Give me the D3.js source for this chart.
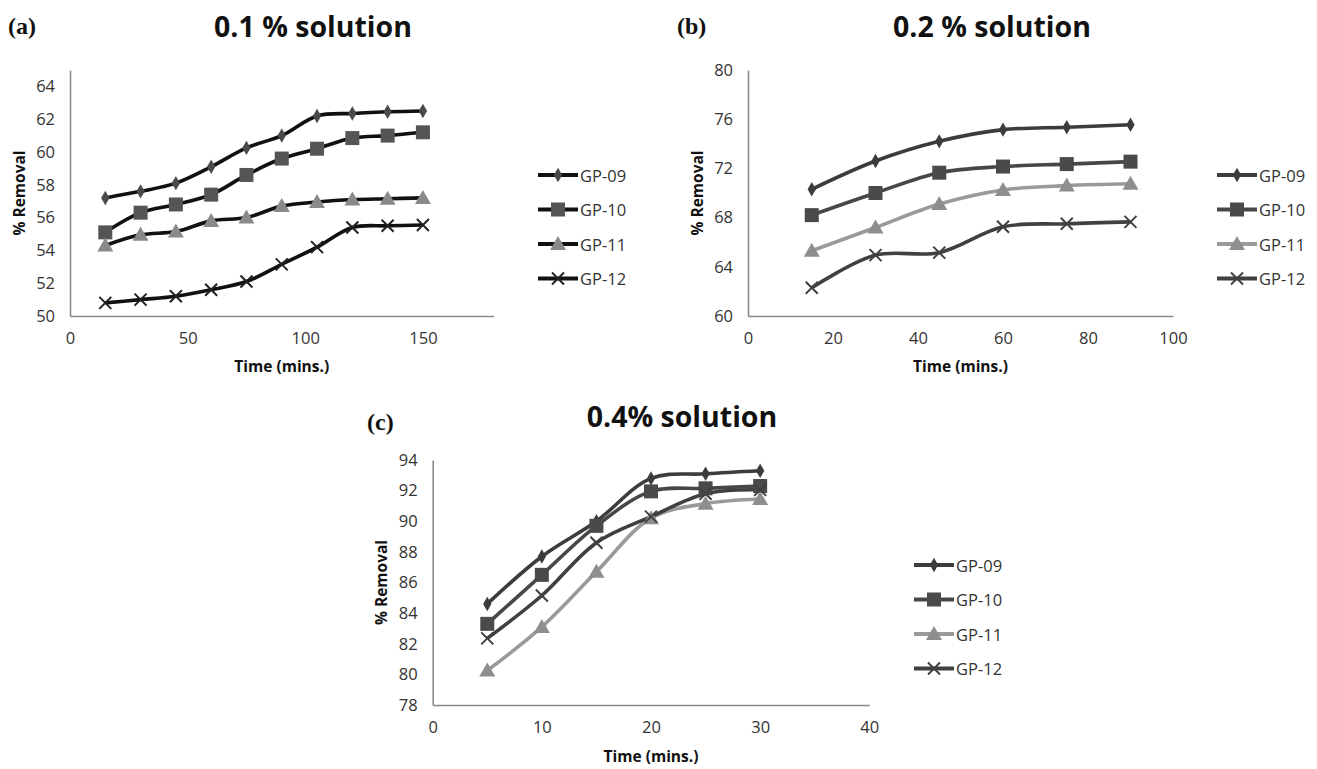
<!DOCTYPE html>
<html>
<head>
<meta charset="utf-8">
<script src="https://cdn.jsdelivr.net/npm/d3@7"></script>
<style>
  html, body { margin: 0; padding: 0; background: #fff; }
  svg { display: block; }
  text { font-family: "Open Sans", "Liberation Sans", sans-serif; }
</style>
</head>
<body>
<svg id="chart" width="1317" height="769"></svg>
<script>
// ---- Data ----
const seriesNames = ["GP-09", "GP-10", "GP-11", "GP-12"];

// (a) 0.1 % solution
const timeA = [15, 30, 45, 60, 75, 90, 105, 120, 135, 150];
const a_GP09 = [57.2, 57.6, 58.1, 59.1, 60.25, 61.0, 62.2, 62.35, 62.45, 62.5];
const a_GP10 = [55.1, 56.3, 56.8, 57.4, 58.6, 59.6, 60.2, 60.85, 61.0, 61.2];
const a_GP11 = [54.3, 54.95, 55.15, 55.8, 56.0, 56.7, 56.95, 57.1, 57.15, 57.2];
const a_GP12 = [50.8, 51.0, 51.2, 51.6, 52.1, 53.15, 54.2, 55.4, 55.5, 55.55];

// (b) 0.2 % solution
const timeB = [15, 30, 45, 60, 75, 90];
const b_GP09 = [70.3, 72.6, 74.2, 75.15, 75.35, 75.55];
const b_GP10 = [68.2, 70.0, 71.65, 72.15, 72.35, 72.55];
const b_GP11 = [65.3, 67.2, 69.1, 70.25, 70.6, 70.75];
const b_GP12 = [62.3, 64.95, 65.15, 67.25, 67.5, 67.65];

// (c) 0.4% solution
const timeC = [5, 10, 15, 20, 25, 30];
const c_GP09 = [84.6, 87.7, 90.0, 92.8, 93.1, 93.3];
const c_GP10 = [83.3, 86.5, 89.7, 91.95, 92.15, 92.3];
const c_GP11 = [80.25, 83.1, 86.7, 90.2, 91.15, 91.45];
const c_GP12 = [82.35, 85.15, 88.6, 90.3, 91.8, 92.05];

// Tick labels
const xTicksA = [0, 50, 100, 150];
const yTicksA = [50, 52, 54, 56, 58, 60, 62, 64];
const xTicksB = [0, 20, 40, 60, 80, 100];
const yTicksB = [60, 64, 68, 72, 76, 80];
const xTicksC = [0, 10, 20, 30, 40];
const yTicksC = [78, 80, 82, 84, 86, 88, 90, 92, 94];

const svg = d3.select("#chart");

const markerTypes = ["diamond", "square", "triangle", "x"];

function drawMarker(g, type, x, y, color) {
  if (type === "diamond") {
    g.append("path").attr("d", d3.symbol().type(d3.symbolDiamond).size(60)())
      .attr("transform", `translate(${x},${y})`).attr("fill", color);
  } else if (type === "square") {
    g.append("rect").attr("x", x - 7).attr("y", y - 7).attr("width", 14).attr("height", 14)
      .attr("fill", color);
  } else if (type === "triangle") {
    g.append("path").attr("d", `M${x},${y - 8}L${x + 8},${y + 6}L${x - 8},${y + 6}Z`)
      .attr("fill", color);
  } else {
    g.append("path").attr("d", `M${x - 6},${y - 6}L${x + 6},${y + 6}M${x - 6},${y + 6}L${x + 6},${y - 6}`)
      .attr("stroke", color).attr("stroke-width", 2).attr("fill", "none");
  }
}

function panel(cfg) {
  const x = d3.scaleLinear().domain(cfg.xDomain).range(cfg.xRange);
  const y = d3.scaleLinear().domain(cfg.yDomain).range(cfg.yRange);
  const g = svg.append("g");

  // Axes
  const xAxis = g.append("g").attr("transform", `translate(0,${cfg.yRange[0]})`)
    .call(d3.axisBottom(x).tickValues(cfg.xTicks).tickSize(0).tickPadding(16).tickFormat(d3.format("d")));
  const yAxis = g.append("g").attr("transform", `translate(${cfg.xRange[0]},0)`)
    .call(d3.axisLeft(y).tickValues(cfg.yTicks).tickSize(0).tickPadding(15).tickFormat(d3.format("d")));
  [xAxis, yAxis].forEach(ax => {
    ax.select(".domain").attr("stroke", "#8a8a8a").attr("stroke-width", 1.6);
    ax.selectAll("text").attr("fill", "#333").style("font-size", "16.5px")
      .style("font-family", "'Open Sans', sans-serif");
  });

  // Lines
  const line = d3.line().curve(d3.curveCatmullRom.alpha(0.5))
    .x((d, i) => x(cfg.time[i])).y(d => y(d));
  cfg.series.forEach((vals, si) => {
    g.append("path").datum(vals).attr("d", line).attr("fill", "none")
      .attr("stroke", cfg.lineColors[si]).attr("stroke-width", 3.6);
  });
  cfg.series.forEach((vals, si) => {
    vals.forEach((v, i) => drawMarker(g, markerTypes[si], x(cfg.time[i]), y(v), cfg.markerColors[si]));
  });

  // Axis titles
  g.append("text").attr("x", (cfg.xRange[0] + cfg.xRange[1]) / 2).attr("y", cfg.xTitleY)
    .attr("text-anchor", "middle").style("font-size", "15.5px").style("font-weight", "bold")
    .attr("fill", "#111").text("Time (mins.)");
  g.append("text")
    .attr("transform", `translate(${cfg.yTitleX},${(cfg.yRange[0] + cfg.yRange[1]) / 2}) rotate(-90)`)
    .attr("text-anchor", "middle").attr("dominant-baseline", "central")
    .style("font-size", "15.5px").style("font-weight", "bold").attr("fill", "#111").text("% Removal");

  // Title & panel letter
  g.append("text").attr("x", cfg.titleX).attr("y", cfg.titleY).attr("text-anchor", "middle")
    .style("font-size", "28.5px").style("font-weight", "bold").attr("fill", "#111").text(cfg.title);
  g.append("text").attr("x", cfg.letterX).attr("y", cfg.letterY)
    .style("font-family", "'Liberation Serif', serif").style("font-size", "24px")
    .style("font-weight", "bold").attr("fill", "#111").text(cfg.letter);

  // Legend
  seriesNames.forEach((name, si) => {
    const ly = cfg.legendY + si * 34.5;
    const lx = cfg.legendX;
    g.append("line").attr("x1", lx).attr("x2", lx + 40).attr("y1", ly).attr("y2", ly)
      .attr("stroke", cfg.lineColors[si]).attr("stroke-width", 4);
    drawMarker(g, markerTypes[si], lx + 20, ly, cfg.markerColors[si]);
    g.append("text").attr("x", lx + 42).attr("y", ly).attr("dominant-baseline", "central")
      .style("font-size", "16.5px").attr("fill", "#333").text(name);
  });
}

panel({
  time: timeA, series: [a_GP09, a_GP10, a_GP11, a_GP12],
  xDomain: [0, 180], xRange: [70, 493.5], yDomain: [50, 65], yRange: [316, 70],
  xTicks: xTicksA, yTicks: yTicksA,
  lineColors: ["#111", "#111", "#111", "#111"],
  markerColors: ["#4a4a4a", "#555", "#8a8a8a", "#222"],
  xTitleY: 372, yTitleX: 19,
  title: "0.1 % solution", titleX: 313, titleY: 37, letter: "(a)", letterX: 8, letterY: 34,
  legendX: 538, legendY: 175
});

panel({
  time: timeB, series: [b_GP09, b_GP10, b_GP11, b_GP12],
  xDomain: [0, 100], xRange: [748, 1173], yDomain: [60, 80], yRange: [316, 70],
  xTicks: xTicksB, yTicks: yTicksB,
  lineColors: ["#3c3c3c", "#474747", "#9a9a9a", "#404040"],
  markerColors: ["#3c3c3c", "#4a4a4a", "#8e8e8e", "#404040"],
  xTitleY: 372, yTitleX: 697,
  title: "0.2 % solution", titleX: 992, titleY: 37, letter: "(b)", letterX: 677, letterY: 34,
  legendX: 1217, legendY: 175
});

panel({
  time: timeC, series: [c_GP09, c_GP10, c_GP11, c_GP12],
  xDomain: [0, 40], xRange: [432.7, 869.3], yDomain: [78, 94], yRange: [705, 460],
  xTicks: xTicksC, yTicks: yTicksC,
  lineColors: ["#3c3c3c", "#474747", "#9a9a9a", "#404040"],
  markerColors: ["#3c3c3c", "#4a4a4a", "#8e8e8e", "#404040"],
  xTitleY: 762, yTitleX: 381,
  title: "0.4% solution", titleX: 682, titleY: 427, letter: "(c)", letterX: 367, letterY: 430,
  legendX: 914, legendY: 565
});
</script>
</body>
</html>
